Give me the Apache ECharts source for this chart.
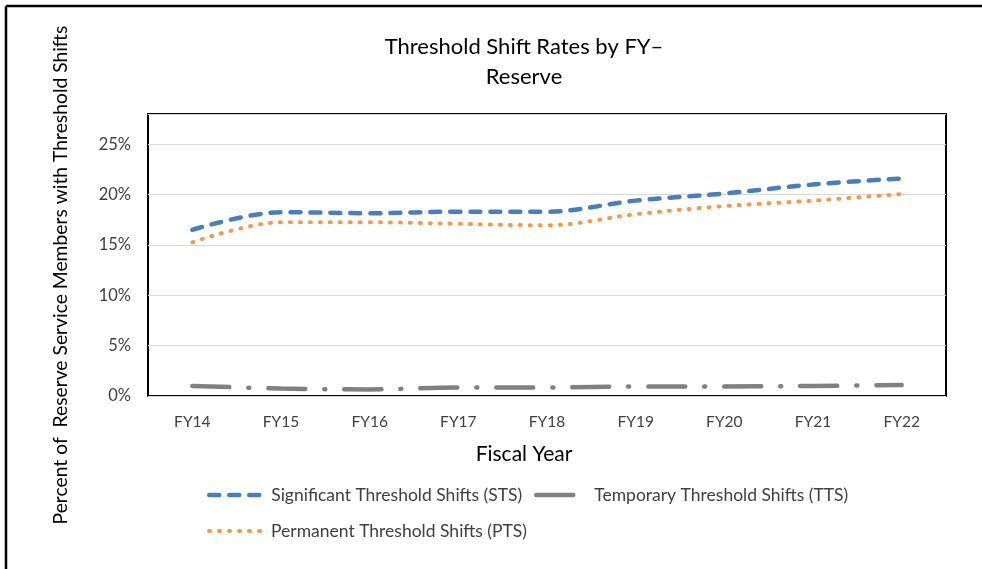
<!DOCTYPE html>
<html>
<head>
<meta charset="utf-8">
<script src="https://cdn.jsdelivr.net/npm/echarts@6/dist/echarts.min.js"></script>
<style>
html,body{margin:0;padding:0;background:#fff;}
#chart{width:982px;height:569px;}
</style>
</head>
<body>
<div id="chart"></div>
<script>
const categories = ['FY14','FY15','FY16','FY17','FY18','FY19','FY20','FY21','FY22'];
const stsValues = [16.5, 18.25, 18.15, 18.3, 18.3, 19.4, 20.1, 21.0, 21.6];
const ttsValues = [1.0, 0.75, 0.65, 0.85, 0.85, 0.95, 0.95, 1.0, 1.1];
const ptsValues = [15.25, 17.25, 17.25, 17.1, 16.95, 18.05, 18.85, 19.4, 20.05];
const yTicks = [0, 5, 10, 15, 20, 25];

const FONT = 'Lato, "Open Sans", sans-serif';
const TXT = '#404040';

const legendBase = {
  padding: 0, itemHeight: 14, orient: 'horizontal',
  itemStyle: {opacity: 0, borderWidth: 0},
  textStyle: {color: TXT, fontSize: 17.5, fontFamily: FONT}
};

const chart = echarts.init(document.getElementById('chart'));
chart.setOption({
  backgroundColor: '#fff',
  animation: false,
  grid: {left: 148, right: 36, top: 114, bottom: 173, show: true, borderColor: '#000', borderWidth: 2, containLabel: false},
  xAxis: {
    type: 'category', data: categories, boundaryGap: true,
    axisLine: {show: false}, axisTick: {show: false},
    axisLabel: {color: TXT, fontSize: 15.5, fontFamily: FONT, margin: 18}
  },
  yAxis: {
    type: 'value', min: 0, max: 28, interval: 5,
    axisLine: {show: false}, axisTick: {show: false},
    axisLabel: {color: TXT, fontSize: 16.5, fontFamily: FONT, margin: 17, showMaxLabel: false,
      formatter: v => (yTicks.indexOf(v) >= 0 ? v + '%' : '')},
    splitLine: {lineStyle: {color: '#d9d9d9', width: 1}}
  },
  legend: [
    Object.assign({}, legendBase, {data: ['Significant Threshold Shifts (STS)'], left: 207, top: 486, itemWidth: 57,
      lineStyle: {width: 4.5}}),
    Object.assign({}, legendBase, {data: ['Temporary Threshold Shifts (TTS)'], left: 534, top: 486, itemWidth: 53,
      lineStyle: {width: 4.5}}),
    Object.assign({}, legendBase, {data: ['Permanent Threshold Shifts (PTS)'], left: 207, top: 522, itemWidth: 57,
      lineStyle: {width: 4}})
  ],
  graphic: [
    {type: 'line', shape: {x1: 6, y1: 6, x2: 982, y2: 6}, style: {stroke: '#000', lineWidth: 2.5}},
    {type: 'line', shape: {x1: 6, y1: 6, x2: 6, y2: 569}, style: {stroke: '#000', lineWidth: 2.5}},
    {type: 'text', x: 524, y: 47, style: {text: 'Threshold Shift Rates by FY–', fill: '#000', font: '22px ' + FONT, textAlign: 'center', textVerticalAlign: 'middle'}},
    {type: 'text', x: 524, y: 77, style: {text: 'Reserve', fill: '#000', font: '22px ' + FONT, textAlign: 'center', textVerticalAlign: 'middle'}},
    {type: 'text', x: 524, y: 454, style: {text: 'Fiscal Year', fill: '#000', font: '21px ' + FONT, textAlign: 'center', textVerticalAlign: 'middle'}},
    {type: 'text', x: 61, y: 275, rotation: Math.PI / 2,
      style: {text: 'Percent of  Reserve Service Members with Threshold Shifts', fill: '#000', font: '19.3px ' + FONT, textAlign: 'center', textVerticalAlign: 'middle'}}
  ],
  series: [
    {name: 'Significant Threshold Shifts (STS)', type: 'line', data: stsValues, smooth: 0.35, symbol: 'none',
      color: '#4a7ebb', lineStyle: {color: '#4a7ebb', width: 4.5, type: [10, 10], cap: 'round'}},
    {name: 'Temporary Threshold Shifts (TTS)', type: 'line', data: ttsValues, smooth: 0.35, symbol: 'none',
      color: '#808080', lineStyle: {color: '#808080', width: 4.5, type: [37, 19, 1, 19], cap: 'round'}},
    {name: 'Permanent Threshold Shifts (PTS)', type: 'line', data: ptsValues, smooth: 0.35, symbol: 'none',
      color: '#f79646', lineStyle: {color: '#f79646', width: 4, type: [1, 9], cap: 'round'}}
  ]
});
</script>
</body>
</html>
